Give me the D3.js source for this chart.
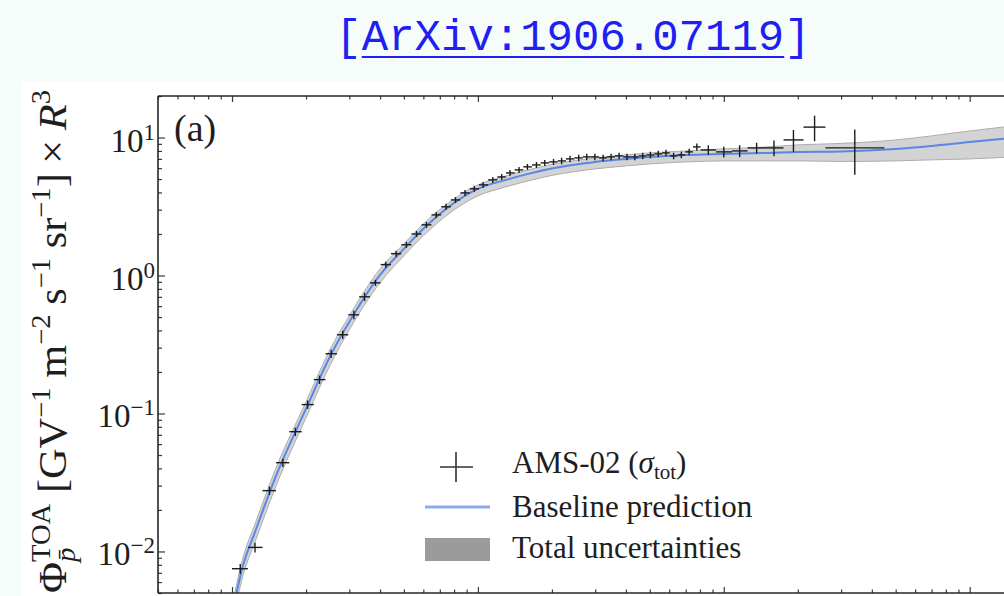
<!DOCTYPE html>
<html><head><meta charset="utf-8">
<script src="https://cdn.jsdelivr.net/npm/d3@7"></script>
<style>html,body{margin:0;padding:0;background:#f5fcf9;overflow:hidden}</style>
</head><body>
<svg id="c" width="1004" height="596"></svg>
<script>
// ---------- data ----------
const titleText = "[ArXiv:1906.07119]";
const panelLabel = "(a)";
// AMS-02 antiproton bins (GV)
const binEdges = [1.00,1.16,1.33,1.51,1.71,1.92,2.15,2.40,2.67,2.97,3.29,3.64,4.02,4.43,4.88,5.37,5.90,6.47,7.09,7.76,8.48,9.26,10.1,11.0,12.0,13.0,14.1,15.3,16.6,18.0,19.5,21.1,22.8,24.7,26.7,28.8,31.1,33.5,36.1,38.9,41.9,45.1,48.5,52.2,56.1,60.3,64.8,69.7,74.9,80.5,93.0,108,125,147,175,211,259,450];
const rigidity = [1.08,1.24,1.42,1.61,1.81,2.03,2.27,2.53,2.82,3.13,3.46,3.83,4.22,4.65,5.12,5.63,6.18,6.77,7.42,8.11,8.86,9.67,10.5,11.5,12.5,13.5,14.7,15.9,17.3,18.7,20.3,21.9,23.7,25.7,27.7,29.9,32.3,34.8,37.5,40.4,43.5,46.8,50.3,54.1,58.2,62.5,67.2,72.3,77.7,86.5,100,116,136,160,192,234,341];
const fluxR3 = [0.0075,0.0107,0.0276,0.0440,0.0738,0.116,0.176,0.271,0.372,0.519,0.701,0.885,1.20,1.44,1.67,2.00,2.33,2.75,3.15,3.53,3.97,4.25,4.54,4.93,5.18,5.54,5.83,6.13,6.33,6.55,6.66,6.77,7.00,7.12,7.24,7.24,7.12,7.24,7.36,7.24,7.24,7.36,7.48,7.61,7.74,7.36,7.48,7.87,8.55,8.13,7.87,8.00,8.41,8.41,9.61,11.9,8.41];
const fluxRelErr = [0.08,0.08,0.07,0.07,0.07,0.07,0.07,0.07,0.07,0.07,0.07,0.05,0.05,0.05,0.05,0.05,0.05,0.05,0.05,0.05,0.05,0.05,0.05,0.05,0.05,0.05,0.05,0.05,0.05,0.05,0.05,0.055,0.055,0.055,0.055,0.055,0.055,0.055,0.055,0.055,0.055,0.055,0.055,0.055,0.055,0.055,0.055,0.055,0.06,0.08,0.09,0.10,0.09,0.13,0.18,0.21,0.36];
// baseline prediction and total uncertainty band
const modelR    = [1.0,1.1,1.25,1.5,2,2.5,3,4,5,6,8,10,13,16,20,25,30,40,50,70,100,150,200,300,500,700,1000,1500,2000];
const modelFlux = [0.00349,0.00753,0.01436,0.0343,0.1083,0.2578,0.4622,1.012,1.561,2.179,3.36,4.245,4.932,5.451,5.974,6.388,6.66,7.0,7.24,7.48,7.61,7.74,7.87,7.93,8.27,8.70,9.29,9.95,10.5];
const bandHigh  = [0.00399,0.00860,0.01641,0.0392,0.1217,0.2897,0.5108,1.118,1.697,2.368,3.592,4.538,5.272,5.827,6.386,6.829,7.120,7.483,7.740,7.996,8.271,8.554,8.845,9.062,9.610,10.28,11.16,12.15,13.04];
const bandLow   = [0.00295,0.00637,0.01215,0.0290,0.0932,0.2219,0.4045,0.886,1.389,1.939,2.990,3.777,4.389,4.851,5.316,5.684,5.926,6.229,6.442,6.656,6.772,6.774,6.773,6.712,6.770,6.888,6.998,7.249,7.523];
const yTickExp = [-2,-1,0,1];
const legendLabels = ["AMS-02", "Baseline prediction", "Total uncertainties"];

// ---------- layout ----------
const serif = "'Liberation Serif','Times New Roman',serif";
const L = 158, T = 96, B = 593, R = 1087;
const svg = d3.select("#c");
svg.append("rect").attr("width",1004).attr("height",596).attr("fill","#f5fcf9");
svg.append("rect").attr("x",21).attr("y",82).attr("width",983).attr("height",514).attr("fill","#ffffff");

// title
const tcx = 573;
const title = svg.append("text").attr("x",tcx).attr("y",50).attr("text-anchor","middle")
  .attr("font-family","'Liberation Mono','Courier New',monospace").attr("font-size",44)
  .attr("fill","#1f1ff2").text(titleText);
const tw = title.node().getComputedTextLength(), cw = tw/titleText.length;
svg.append("line").attr("x1",tcx-tw/2+cw).attr("x2",tcx+tw/2-cw).attr("y1",57).attr("y2",57)
  .attr("stroke","#1f1ff2").attr("stroke-width",2);

const x = d3.scaleLog().domain([0.5,3000]).range([L,R]);
const y = d3.scaleLog().domain([0.005,20]).range([B,T]);

svg.append("defs").append("clipPath").attr("id","clip").append("rect")
  .attr("x",L).attr("y",T).attr("width",R-L).attr("height",B-T);
const plot = svg.append("g").attr("clip-path","url(#clip)");

const idx = d3.range(modelR.length);
plot.append("path").datum(idx)
  .attr("d", d3.area().x(i=>x(modelR[i])).y0(i=>y(bandLow[i])).y1(i=>y(bandHigh[i])).curve(d3.curveMonotoneX))
  .attr("fill","#d3d3d3");
[bandLow, bandHigh].forEach(arr => plot.append("path").datum(idx)
  .attr("d", d3.line().x(i=>x(modelR[i])).y(i=>y(arr[i])).curve(d3.curveMonotoneX))
  .attr("fill","none").attr("stroke","#adadad").attr("stroke-width",1));
plot.append("path").datum(idx)
  .attr("d", d3.line().x(i=>x(modelR[i])).y(i=>y(modelFlux[i])).curve(d3.curveMonotoneX))
  .attr("fill","none").attr("stroke","#5a86e6").attr("stroke-width",2);

// data crosses
const pts = plot.append("g").attr("stroke","#1c1c1c").attr("stroke-width",1.4);
rigidity.forEach((r,i) => {
  const f = fluxR3[i], e = fluxRelErr[i];
  pts.append("line").attr("x1",x(binEdges[i])).attr("x2",x(binEdges[i+1])).attr("y1",y(f)).attr("y2",y(f));
  pts.append("line").attr("x1",x(r)).attr("x2",x(r)).attr("y1",y(f*(1+e))).attr("y2",y(f*(1-e)));
});

// axes (inward ticks)
const xt = x.ticks().filter(v => v>=0.5 && v<=3000);
const isMaj = v => Math.abs(Math.log10(v) - Math.round(Math.log10(v))) < 1e-9;
const xMaj = xt.filter(isMaj), xMin = xt.filter(v=>!isMaj(v));
const yt = y.ticks().filter(v => v>=0.005 && v<=20);
const yMaj = yt.filter(isMaj), yMin = yt.filter(v=>!isMaj(v));
function styleAxis(g){ g.select(".domain").remove(); g.selectAll("line").attr("stroke","#3a3a3a").attr("stroke-width",1.2); g.selectAll("text").remove(); }
svg.append("g").attr("transform",`translate(0,${T})`).call(d3.axisBottom(x).tickValues(xMin).tickSize(3.5).tickFormat("")).call(styleAxis);
svg.append("g").attr("transform",`translate(0,${T})`).call(d3.axisBottom(x).tickValues(xMaj).tickSize(6).tickFormat("")).call(styleAxis);
svg.append("g").attr("transform",`translate(0,${B})`).call(d3.axisTop(x).tickValues(xMin).tickSize(3.5).tickFormat("")).call(styleAxis);
svg.append("g").attr("transform",`translate(0,${B})`).call(d3.axisTop(x).tickValues(xMaj).tickSize(6).tickFormat("")).call(styleAxis);
svg.append("g").attr("transform",`translate(${L},0)`).call(d3.axisRight(y).tickValues(yMin).tickSize(4).tickFormat("")).call(styleAxis);
svg.append("g").attr("transform",`translate(${L},0)`).call(d3.axisRight(y).tickValues(yMaj).tickSize(7).tickFormat("")).call(styleAxis);

// frame
const fr = svg.append("g").attr("stroke","#262626").attr("stroke-width",1.6);
fr.append("line").attr("x1",L).attr("x2",L).attr("y1",T).attr("y2",B);
fr.append("line").attr("x1",L).attr("x2",1004).attr("y1",T).attr("y2",T);
fr.append("line").attr("x1",L).attr("x2",1004).attr("y1",B).attr("y2",B);

// y tick labels
yTickExp.forEach(e => {
  const t = svg.append("text").attr("x",155).attr("y",y(Math.pow(10,e))+14).attr("text-anchor","end")
    .attr("font-family",serif).attr("font-size",33).attr("fill","#1e1e1e");
  t.append("tspan").text("10");
  t.append("tspan").attr("dy",-12).attr("font-size",23).text(e<0 ? "\u2212"+(-e) : String(e));
});

// panel label
svg.append("text").attr("x",174).attr("y",141).attr("font-family",serif).attr("font-size",38)
  .attr("fill","#1e1e1e").text(panelLabel);

// y axis label (rotated, runs laid out by measurement)
const yl = svg.append("g");
const runs = [
  {t:"\u03A6"}, {t:"p\u0304", s:27, it:true, dy:9}, {t:"TOA", s:27, dy:-16, stack:true},
  {t:"[GV", gap:10}, {t:"\u22121", s:27, dy:-16},
  {t:"m", gap:9}, {t:"\u22122", s:27, dy:-16},
  {t:"s", gap:9}, {t:"\u22121", s:27, dy:-16},
  {t:"sr", gap:9}, {t:"\u22121", s:27, dy:-16}, {t:"]"},
  {t:"\u00D7", gap:9}, {t:"R", it:true, gap:9}, {t:"3", s:27, dy:-16}
];
let cx = 0, sStart = 0, sW = 0;
runs.forEach(r => {
  const px = r.stack ? sStart : cx + (r.gap||0);
  const t = yl.append("text").attr("x",px).attr("y",r.dy||0).attr("font-family",serif)
    .attr("font-size",r.s||40).attr("font-style",r.it?"italic":null).attr("fill","#1e1e1e").text(r.t);
  const w = t.node().getComputedTextLength();
  if (r.stack) { cx = sStart + Math.max(sW,w); } else { sStart = px; sW = w; cx = px + w; }
});
const sc = 503 / cx;
yl.attr("transform",`translate(66,593) rotate(-90) scale(${sc},1)`);

// legend
const lg = svg.append("g");
lg.append("line").attr("x1",440).attr("x2",473).attr("y1",467).attr("y2",467).attr("stroke","#333").attr("stroke-width",1.6);
lg.append("line").attr("x1",456).attr("x2",456).attr("y1",452).attr("y2",482).attr("stroke","#333").attr("stroke-width",1.6);
lg.append("line").attr("x1",425).attr("x2",490).attr("y1",507).attr("y2",507).attr("stroke","#8ea9f0").attr("stroke-width",3);
lg.append("rect").attr("x",425).attr("y",538).attr("width",65).attr("height",23).attr("fill","#9b9b9b");
const l1 = lg.append("text").attr("x",512).attr("y",473).attr("font-family",serif).attr("font-size",31).attr("fill","#1e1e1e");
l1.append("tspan").text(legendLabels[0] + " (");
l1.append("tspan").attr("font-style","italic").text("\u03C3");
l1.append("tspan").attr("font-size",21).attr("dy",6).text("tot");
l1.append("tspan").attr("dy",-6).text(")");
lg.append("text").attr("x",512).attr("y",517).attr("font-family",serif).attr("font-size",31).attr("fill","#1e1e1e").text(legendLabels[1]);
lg.append("text").attr("x",512).attr("y",558).attr("font-family",serif).attr("font-size",31).attr("fill","#1e1e1e").text(legendLabels[2]);
</script>
</body></html>
